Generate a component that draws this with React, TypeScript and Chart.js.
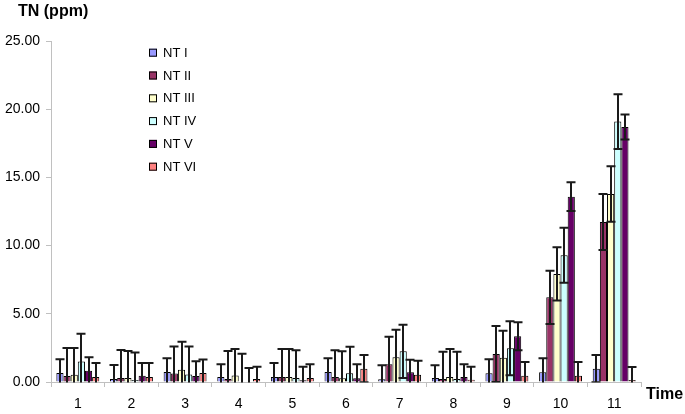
import React, { useEffect, useRef } from "react";
import { Chart, registerables } from "chart.js";

Chart.register(...registerables);

const categories = ["1", "2", "3", "4", "5", "6", "7", "8", "9", "10", "11"];
const seriesNames = ["NT I", "NT II", "NT III", "NT IV", "NT V", "NT VI"];
const seriesColors = ["#9999FF", "#993366", "#FFFFCC", "#CCFFFF", "#660066", "#FF8080"];

const ntI = [0.66, 0.22, 0.73, 0.37, 0.37, 0.73, 0.2, 0.29, 0.65, 0.71, 0.98];
const ntII = [0.44, 0.29, 0.63, 0.22, 0.37, 0.37, 1.3, 0.22, 2.05, 6.21, 11.73];
const ntIII = [0.54, 0.29, 0.9, 0.48, 0.37, 0.27, 1.81, 0.36, 1.78, 7.92, 13.78];
const ntIV = [1.5, 0.14, 0.55, 0.03, 0.29, 0.64, 2.25, 0.22, 2.47, 9.29, 19.09];
const ntV = [0.82, 0.46, 0.44, 0.03, 0.12, 0.27, 0.71, 0.36, 3.35, 13.59, 18.7];
const ntVI = [0.37, 0.37, 0.66, 0.22, 0.29, 0.98, 0.54, 0.17, 0.46, 0.46, 0.14];

const errI = [1.01, 1.02, 1.02, 0.94, 1.03, 1.01, 1.02, 0.93, 1.02, 1.03, 1.0];
const errII = [2.05, 2.05, 1.97, 2.05, 2.05, 1.95, 2.02, 2.0, 2.05, 1.95, 2.05];
const errIII = [1.95, 1.98, 2.05, 1.94, 2.05, 1.98, 2.02, 2.06, 1.98, 1.95, 2.03];
const errIV = [2.03, 2.03, 2.05, 2.05, 2.03, 1.95, 1.95, 2.0, 1.98, 2.02, 2.01];
const errV = [1.0, 0.94, 1.09, 1.0, 1.0, 1.04, 0.93, 0.94, 1.03, 1.05, 0.92];
const errVI = [1.03, 1.03, 0.99, 0.9, 1.01, 1.0, 1.02, 0.95, 1.01, 1.01, 0.96];

const yTicks = [0, 5, 10, 15, 20, 25];
const yTitle = "TN (ppm)";
const xTitle = "Time";

const seriesValues = [ntI, ntII, ntIII, ntIV, ntV, ntVI];
const seriesErrors = [errI, errII, errIII, errIV, errV, errVI];

const FONT = "'Liberation Sans', Arial, sans-serif";

const errorBarPlugin = {
  id: "errorBars",
  afterDatasetsDraw(chart: any) {
    const ctx = chart.ctx;
    const ys = chart.scales.y;
    const area = chart.chartArea;
    ctx.save();
    ctx.beginPath();
    ctx.rect(area.left - 10, 0, area.right - area.left + 20, area.bottom + 0.5);
    ctx.clip();
    ctx.strokeStyle = "#1a1a1a";
    ctx.lineWidth = 2;
    chart.data.datasets.forEach((ds: any, i: number) => {
      const meta = chart.getDatasetMeta(i);
      meta.data.forEach((bar: any, j: number) => {
        const v = seriesValues[i][j];
        const e = seriesErrors[i][j];
        const yt = ys.getPixelForValue(v + e);
        const yb = ys.getPixelForValue(v - e);
        const x = Math.round(bar.x);
        ctx.beginPath();
        ctx.moveTo(x, yt);
        ctx.lineTo(x, yb);
        ctx.moveTo(x - 4.5, yt);
        ctx.lineTo(x + 4.5, yt);
        ctx.moveTo(x - 4.5, yb);
        ctx.lineTo(x + 4.5, yb);
        ctx.stroke();
      });
    });
    ctx.restore();
  },
};

const textPlugin = {
  id: "customText",
  afterDraw(chart: any) {
    const ctx = chart.ctx;
    ctx.save();
    ctx.fillStyle = "#000";
    ctx.font = "bold 16px " + FONT;
    ctx.textAlign = "left";
    ctx.textBaseline = "alphabetic";
    ctx.fillText(yTitle, 18, 16);
    ctx.fillText(xTitle, 646, 399);
    ctx.font = "13px " + FONT;
    ctx.textBaseline = "middle";
    seriesNames.forEach((name, i) => {
      const cy = 52.7 + i * 22.8;
      ctx.fillStyle = seriesColors[i];
      ctx.fillRect(149, cy - 4, 8, 8);
      ctx.strokeStyle = "#000";
      ctx.lineWidth = 1;
      ctx.strokeRect(149.5, cy - 3.5, 7, 7);
      ctx.fillStyle = "#000";
      ctx.fillText(name, 163, cy + 0.5);
    });
    ctx.restore();
  },
};

export default function App() {
  const ref = useRef<HTMLCanvasElement | null>(null);
  useEffect(() => {
    if (!ref.current) return;
    const chart = new Chart(ref.current, {
      type: "bar",
      data: {
        labels: categories,
        datasets: seriesNames.map((name, i) => ({
          label: name,
          data: seriesValues[i],
          backgroundColor: seriesColors[i],
          borderColor: "#000",
          borderWidth: 1,
          categoryPercentage: 0.8,
          barPercentage: 1.0,
        })),
      },
      options: {
        animation: false,
        responsive: false,
        maintainAspectRatio: false,
        layout: { padding: { left: 0, top: 41, right: 44, bottom: 0 } },
        plugins: {
          legend: { display: false },
          tooltip: { enabled: false },
          title: { display: false },
        },
        scales: {
          x: {
            offset: true,
            grid: {
              offset: true,
              display: true,
              drawOnChartArea: false,
              drawTicks: true,
              tickLength: 5,
              color: "#c0c0c0",
            },
            border: { display: true, color: "#c0c0c0", width: 1 },
            ticks: {
              color: "#000",
              font: { family: FONT, size: 14 },
              padding: 9,
              maxRotation: 0,
            },
            afterFit(scale: any) {
              scale.height = 32;
            },
          },
          y: {
            min: 0,
            max: 25,
            afterBuildTicks(scale: any) {
              scale.ticks = yTicks.map((v) => ({ value: v }));
            },
            grid: {
              display: true,
              drawOnChartArea: false,
              drawTicks: true,
              tickLength: 5,
              color: "#c0c0c0",
            },
            border: { display: true, color: "#c0c0c0", width: 1 },
            ticks: {
              color: "#000",
              font: { family: FONT, size: 14 },
              padding: 6,
              callback: (v: any) => Number(v).toFixed(2),
            },
            afterFit(scale: any) {
              scale.width = 51;
            },
          },
        },
      },
      plugins: [errorBarPlugin, textPlugin],
    });
    return () => chart.destroy();
  }, []);
  return (
    <div style={{ position: "absolute", left: 0, top: 0, width: 685, height: 414, background: "#fff" }}>
      <canvas ref={ref} width={685} height={414} style={{ display: "block", width: 685, height: 414 }} />
    </div>
  );
}
